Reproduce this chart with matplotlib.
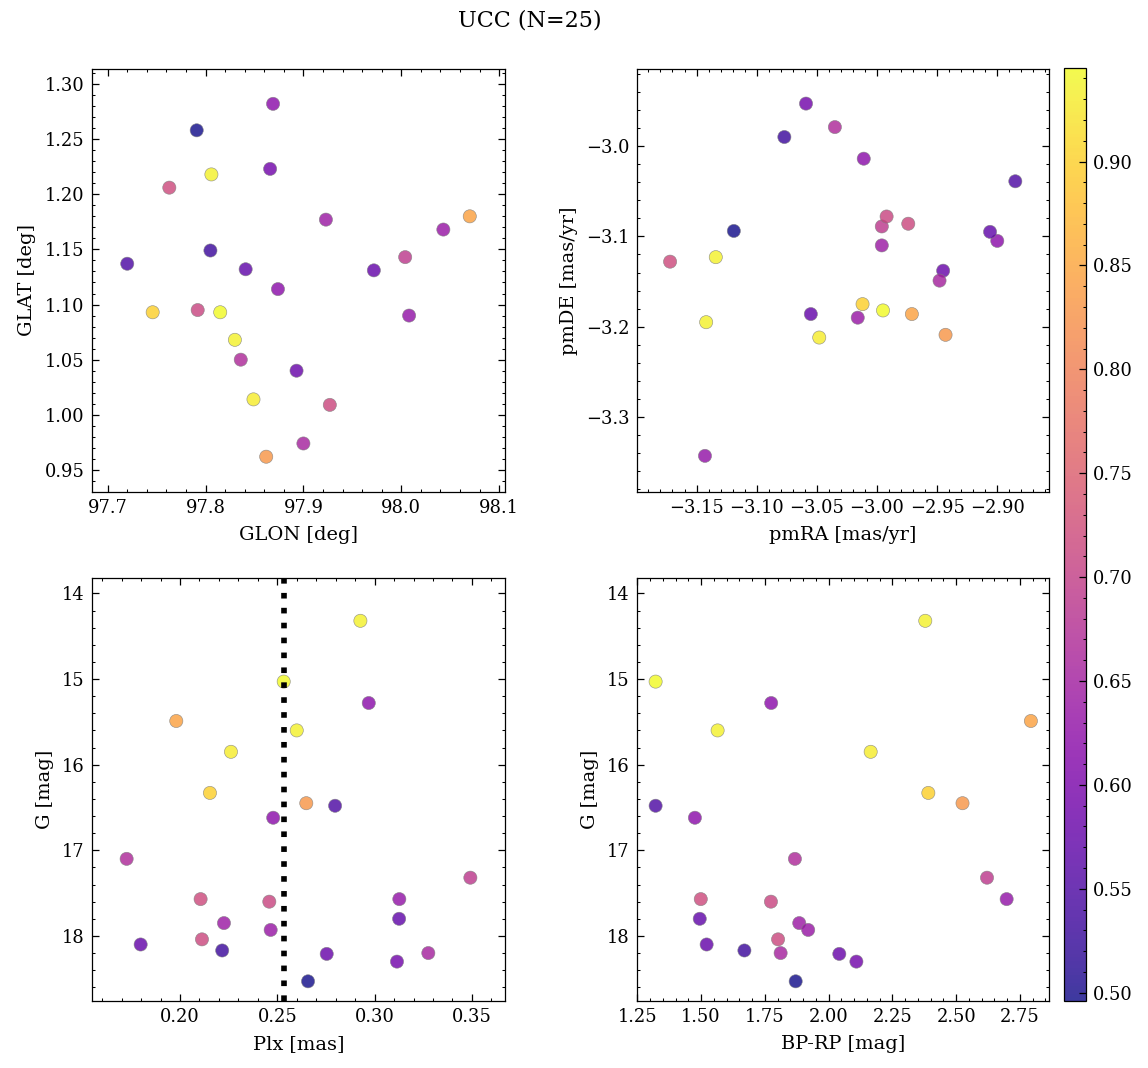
import matplotlib

matplotlib.use("Agg")
import matplotlib.pyplot as plt
import numpy as np

# one entry per member star
glon = [97.806, 97.815, 97.869, 98.070, 97.830, 97.849, 97.746, 97.862, 97.720, 97.874,
        97.836, 98.004, 97.763, 97.792, 98.008, 97.841, 97.923, 98.043, 97.927, 97.972,
        97.805, 97.893, 97.900, 97.866, 97.791]
glat = [1.218, 1.093, 1.282, 1.180, 1.068, 1.014, 1.093, 0.962, 1.137, 1.114,
        1.050, 1.143, 1.206, 1.095, 1.090, 1.132, 1.177, 1.168, 1.009, 1.131,
        1.149, 1.040, 0.974, 1.223, 1.258]
pmra = [-3.134, -2.995, -3.011, -2.971, -3.142, -3.048, -3.012, -2.943, -2.885, -2.900,
        -3.035, -2.996, -3.172, -2.992, -3.143, -2.906, -2.996, -3.016, -2.974, -3.055,
        -3.077, -2.945, -2.948, -3.059, -3.119]
pmde = [-3.123, -3.182, -3.014, -3.186, -3.195, -3.212, -3.175, -3.209, -3.039, -3.105,
        -2.979, -3.089, -3.128, -3.078, -3.343, -3.095, -3.110, -3.190, -3.086, -3.186,
        -2.990, -3.138, -3.149, -2.953, -3.094]
plx = [0.2927, 0.2533, 0.2970, 0.1981, 0.2600, 0.2262, 0.2154, 0.2649, 0.2797, 0.2479,
       0.1726, 0.3492, 0.2106, 0.2459, 0.3127, 0.3126, 0.2226, 0.2466, 0.2113, 0.1798,
       0.2217, 0.2754, 0.3276, 0.3115, 0.2658]
gmag = [14.32, 15.03, 15.28, 15.49, 15.60, 15.85, 16.33, 16.45, 16.48, 16.62,
        17.10, 17.32, 17.57, 17.60, 17.57, 17.80, 17.85, 17.93, 18.04, 18.10,
        18.17, 18.21, 18.20, 18.30, 18.53]
bprp = [2.379, 1.322, 1.775, 2.793, 1.565, 2.165, 2.391, 2.525, 1.322, 1.476,
        1.868, 2.621, 1.499, 1.774, 2.698, 1.495, 1.885, 1.920, 1.802, 1.522,
        1.670, 2.042, 1.812, 2.109, 1.871]
prob = [0.935, 0.945, 0.62, 0.845, 0.935, 0.93, 0.90, 0.83, 0.55, 0.62,
        0.665, 0.69, 0.72, 0.71, 0.63, 0.57, 0.64, 0.635, 0.715, 0.575,
        0.53, 0.58, 0.655, 0.59, 0.496]

plt.rcParams.update({
    "font.family": "serif",
    "font.serif": ["DejaVu Serif"],
    "font.size": 8.6,
    "axes.labelsize": 9.3,
    "axes.linewidth": 0.6,
    "xtick.direction": "in",
    "ytick.direction": "in",
    "xtick.top": True,
    "ytick.right": True,
    "xtick.minor.visible": True,
    "ytick.minor.visible": True,
    "xtick.major.size": 3.2,
    "ytick.major.size": 3.2,
    "xtick.minor.size": 1.6,
    "ytick.minor.size": 1.6,
    "xtick.major.width": 0.6,
    "ytick.major.width": 0.6,
    "xtick.minor.width": 0.5,
    "ytick.minor.width": 0.5,
})

fig = plt.figure(figsize=(1148 / 150, 1068 / 150), dpi=150)
W, H = 1148, 1068


def box(x0, y0, x1, y1):
    return [x0 / W, 1 - y1 / H, (x1 - x0) / W, (y1 - y0) / H]


ax1 = fig.add_axes(box(92, 69, 505, 492))
ax2 = fig.add_axes(box(637, 69, 1049, 492))
ax3 = fig.add_axes(box(92, 578, 505, 1001))
ax4 = fig.add_axes(box(637, 578, 1049, 1001))
cax = fig.add_axes(box(1064, 68, 1086, 1001))

kw = dict(c=prob, cmap="plasma", s=40, alpha=0.8, edgecolor="grey", linewidth=0.3)

sc = ax1.scatter(glon, glat, **kw)
ax1.set_xlim(97.684, 98.106)
ax1.set_ylim(0.930, 1.3136)
ax1.set_xlabel("GLON [deg]")
ax1.set_ylabel("GLAT [deg]")

ax2.scatter(pmra, pmde, **kw)
ax2.set_xlim(-3.1995, -2.857)
ax2.set_ylim(-3.383, -2.9147)
ax2.set_xlabel("pmRA [mas/yr]")
ax2.set_ylabel("pmDE [mas/yr]")

ax3.scatter(plx, gmag, **kw)
ax3.axvline(np.median(plx), color="black", linestyle=":", linewidth=2.7)
ax3.set_xlim(0.1548, 0.367)
ax3.set_ylim(18.76, 13.82)
ax3.set_xlabel("Plx [mas]")
ax3.set_ylabel("G [mag]")

ax4.scatter(bprp, gmag, **kw)
ax4.set_xlim(1.249, 2.864)
ax4.set_ylim(18.76, 13.82)
ax4.set_xlabel("BP-RP [mag]")
ax4.set_ylabel("G [mag]")

cbar = fig.colorbar(sc, cax=cax)
cbar.outline.set_linewidth(0.6)
cax.tick_params(which="both", direction="in")
cax.minorticks_on()

fig.suptitle("UCC (N=25)", x=530 / W, y=1 - 20 / H, va="center", fontsize=10.7)

fig.savefig("out.png", dpi=150)
plt.close(fig)
